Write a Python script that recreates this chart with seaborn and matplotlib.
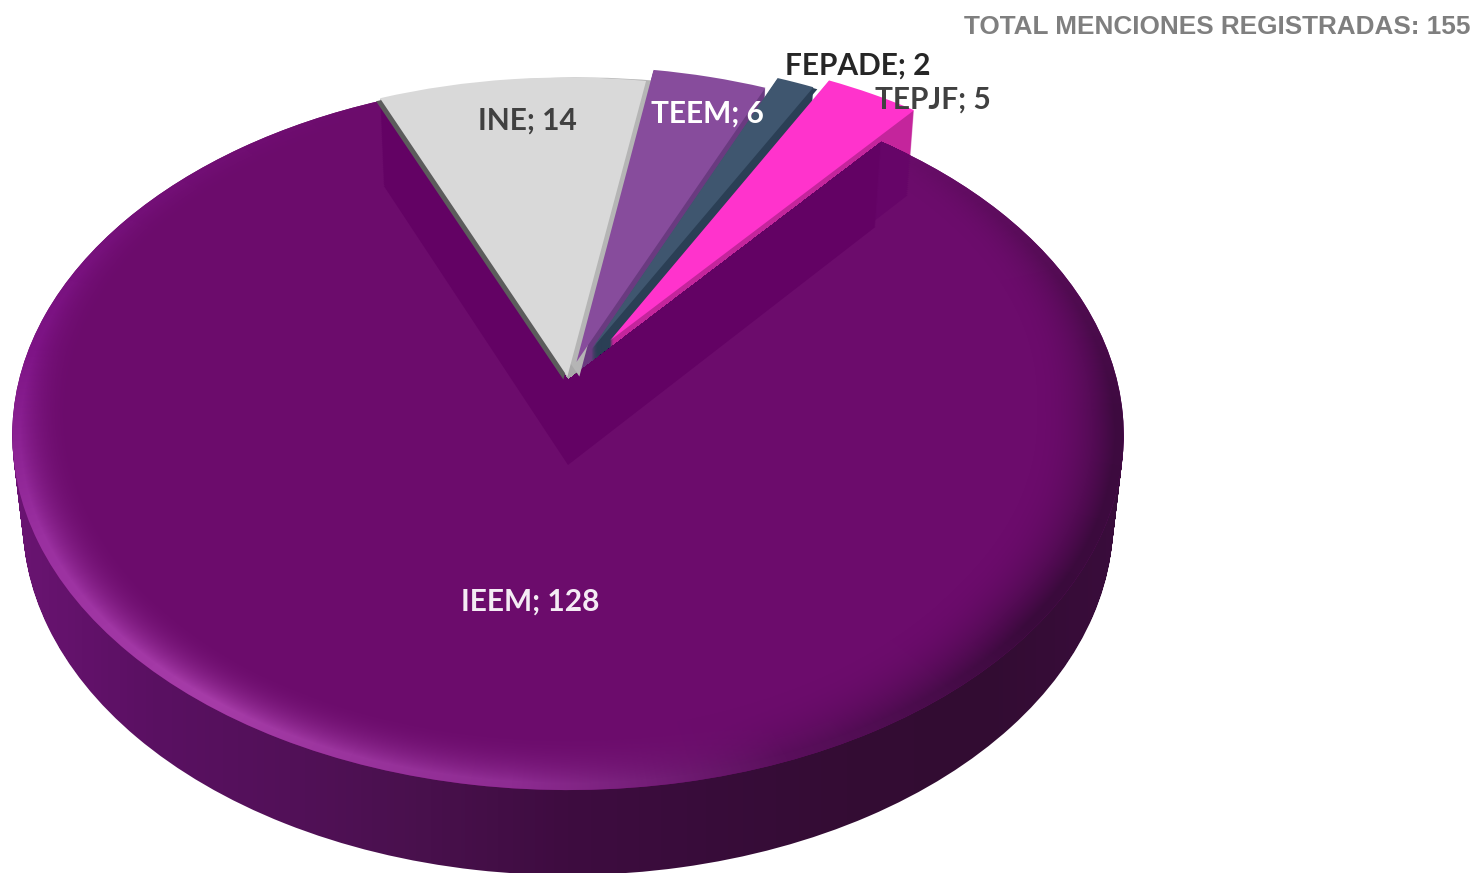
import numpy as np
import matplotlib
matplotlib.use("Agg")
import matplotlib.pyplot as plt
import seaborn as sns
from matplotlib.colors import to_rgb
from matplotlib.path import Path
from matplotlib.transforms import Transform

# --- DATA ---
names = ["INE", "TEEM", "FEPADE", "TEPJF", "IEEM"]
menciones = [14, 6, 2, 5, 128]
total_label = "TOTAL MENCIONES REGISTRADAS: 155"

# --- STYLE ---
top_colors = ["#d9d9d9", "#874c9c", "#3f566f", "#ff33cc", "#6c0c6c"]
wall_colors = ["#a8a8a8", "#6a3a80", "#2b3f55", "#c4259c", "#3a0c3c"]
explode = [0.01, 0.055, 0.1, 0.14, 0.0]
START = 113
DEPTH = 85

# camera of the tilted disc, in pixels of the final picture
CX, CY, AX_X, AX_Y, PERSP = 568, 380, 549, 346.5, 0.155

sns.set_theme(style="white")
fig = plt.figure(figsize=(14.75, 8.73), dpi=100)
ax = fig.add_axes([0, 0, 1, 1])


class DiscView(Transform):
    """Projects the flat pie onto the tilted disc, drop pushes it down the wall"""
    input_dims = 2
    output_dims = 2

    def __init__(self, drop=0, dx=0):
        super().__init__()
        self.drop = drop
        self.dx = dx

    def transform_non_affine(self, values):
        v = np.asarray(values, dtype=float)
        den = 1 + PERSP * v[:, 1]
        shrink = 1 - 0.00022 * self.drop
        px = CX + self.dx + AX_X * shrink * v[:, 0] / den
        py = CY + self.drop - AX_Y * v[:, 1] / den
        return np.column_stack([px, py])


def draw_slices(colors, show, drop=0, dx=0, use_explode=True, zorder=1):
    """Runs ax.pie on the real values and keeps only the slices in show"""
    wedges, _ = ax.pie(
        menciones,
        colors=colors,
        startangle=START,
        counterclock=False,
        explode=explode if use_explode else None,
        radius=1,
        wedgeprops={"linewidth": 0, "zorder": zorder},
    )
    view = DiscView(drop, dx) + ax.transData
    kept = []
    for i, w in enumerate(wedges):
        w.set_transform(view)
        if i in show:
            kept.append(w)
        else:
            w.set_visible(False)
    return kept


SMALL = [0, 1, 2, 3]
IEEM = 4

# walls of the small slices, behind everything
for d in range(DEPTH, 0, -1):
    draw_slices(wall_colors, SMALL, drop=d, zorder=1)

# wall of IEEM: horizontal gradient clipped to the swept outline
ieem_top = draw_slices(top_colors, [IEEM], zorder=3)[0]
ieem_path = ieem_top.get_path()
sweep = [DiscView(d).transform_path(ieem_path) for d in range(DEPTH, 0, -2)]
sweep_path = Path.make_compound_path(*sweep)
wall_stops = ["#6a1472", "#5a1062", "#521058", "#48104c", "#3e0c40", "#380c3a", "#340c34", "#320c32", "#3a0c3c"]
wall_ramp = np.array(sns.blend_palette(wall_stops, 300))[None, :, :3]
wall_im = ax.imshow(wall_ramp, extent=(12, 1125, 873, 0), aspect="auto", zorder=2)
wall_im.set_clip_path(sweep_path, ax.transData)

# rim highlight of the IEEM face, colour and width change around the circle
yy, xx = np.mgrid[0.5:873, 0.5:1475]
u = (xx - CX) / AX_X
v = (CY - yy) / AX_Y
disc_y = v / (1 - PERSP * v)
disc_x = u * (1 + PERSP * disc_y)
r = np.hypot(disc_x, disc_y)
theta = np.degrees(np.arctan2(disc_x, disc_y)) % 360

rim_angles = [40, 70, 95, 130, 160, 185, 215, 245, 275, 300, 337]
rim_colors = ["#6c0c6c", "#550c55", "#3e0a40", "#3a0a3c", "#5a0f5c", "#8e2c92",
              "#a63ca8", "#9a30a0", "#7e1486", "#741078", "#6c0c6c"]
rim_widths = [0.08, 0.12, 0.15, 0.15, 0.13, 0.11, 0.10, 0.10, 0.09, 0.08, 0.08]
rim_rgb = np.array([to_rgb(c) for c in rim_colors])
rim = np.dstack([np.interp(theta, rim_angles, rim_rgb[:, i]) for i in range(3)])
width = np.interp(theta, rim_angles, rim_widths)
alpha = np.clip((r - (0.985 - width)) / width, 0, 1) ** 2.2
rim_im = ax.imshow(np.dstack([rim, alpha]), extent=(0, 1475, 873, 0), aspect="auto", zorder=4)
rim_im.set_clip_path(ieem_top)

# darker see-through band on the IEEM face left by the slices walls
for d in range(DEPTH, -1, -2):
    for w in draw_slices(["#660568"] * 5, SMALL, drop=d, zorder=5):
        w.set_clip_on(True)
        w.set_clip_path(ieem_top)
for d in range(DEPTH, -1, -2):
    for w in draw_slices(["#630264"] * 5, SMALL, drop=d, use_explode=False, zorder=6):
        w.set_clip_on(True)
        w.set_clip_path(ieem_top)

# thin cut faces, then the tops of the small slices
draw_slices(["#b5b5b5"] * 5, [0], dx=12, zorder=8)
draw_slices(["#5c5c5c"] * 5, [0], dx=-4, drop=3, zorder=8)
draw_slices(["#2b3f55"] * 5, [2], dx=4, drop=2, zorder=8)
for i in SMALL:
    draw_slices(top_colors, [i], zorder=9)

ax.set_aspect("auto")
ax.set_xlim(0, 1475)
ax.set_ylim(873, 0)
ax.axis("off")

# --- TEXT ---
label_pos = [(527, 121), (707, 114), (858, 66), (933, 100), (530, 602)]
label_colors = ["#404040", "#ffffff", "#262626", "#404040", "#f4ecf4"]
for name, val, pos, col in zip(names, menciones, label_pos, label_colors):
    ax.text(pos[0], pos[1], f"{name}; {val}", color=col, ha="center", va="center",
            fontsize=21.5, fontfamily="Lato", fontweight="bold", zorder=12)

ax.text(1470, 27, total_label, color="#7f7f7f", ha="right", va="center",
        fontsize=18.8, fontfamily="Liberation Sans", fontweight="bold", zorder=12)

fig.savefig("out.png", dpi=100, facecolor="white")
